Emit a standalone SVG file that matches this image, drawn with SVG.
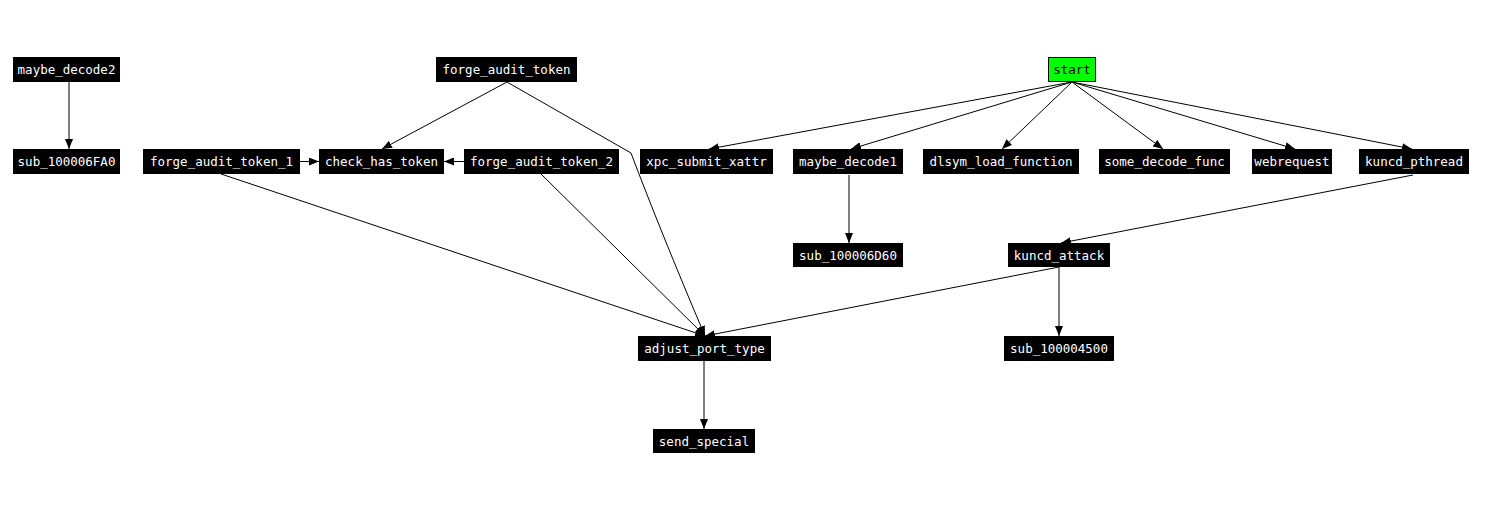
<svg xmlns="http://www.w3.org/2000/svg" width="1488" height="515" viewBox="0 0 1488 515">
<defs>
<style>
.n rect{fill:#000;}
.n text{fill:#fff;font-family:"DejaVu Sans Mono","Liberation Mono",monospace;font-size:12.5px;text-anchor:middle;dominant-baseline:central;}
#start rect{fill:#00ff00;stroke:#000;stroke-width:1;}
#start text{fill:#000;}
.e{fill:none;stroke:#000;stroke-width:1;marker-end:url(#ah);}
</style>
<marker id="ah" markerWidth="10" markerHeight="8" refX="10" refY="4" orient="auto" markerUnits="userSpaceOnUse">
<path d="M0,0 L10,4 L0,8 z" fill="#000"/>
</marker>
</defs>
<rect width="1488" height="515" fill="#fff"/>
<g id="edges">
<path class="e" d="M69,82 L69,149"/>
<path class="e" d="M300,161.5 L319,161.5"/>
<path class="e" d="M464,161.5 L444,161.5"/>
<path class="e" d="M507,82 L382,149"/>
<path class="e" d="M507,82 L631,153 Q660,230 705,336"/>
<path class="e" d="M221,174 L705,336"/>
<path class="e" d="M541,174 L705,336"/>
<path class="e" d="M1059,267 L705,336"/>
<path class="e" d="M1059,267 L1059,336"/>
<path class="e" d="M704,361 L704,429"/>
<path class="e" d="M1072,82 L709,149"/>
<path class="e" d="M1072,82 L851,149"/>
<path class="e" d="M1072,82 L1002,149"/>
<path class="e" d="M1072,82 L1163,149"/>
<path class="e" d="M1072,82 L1295,149"/>
<path class="e" d="M1072,82 L1412,149"/>
<path class="e" d="M1413,175 L1061,243"/>
<path class="e" d="M849,175 L849,243"/>
</g>
<g id="maybe_decode2" class="n"><rect x="13" y="57" width="107" height="25"/><text x="66.5" y="69.5">maybe_decode2</text></g>
<g id="forge_audit_token" class="n"><rect x="436" y="57" width="141" height="25"/><text x="506.5" y="69.5">forge_audit_token</text></g>
<g id="start" class="n"><rect x="1048.5" y="57.5" width="47" height="24"/><text x="1072" y="69.5">start</text></g>
<g id="sub_100006FA0" class="n"><rect x="13" y="149" width="107" height="25"/><text x="66.5" y="161.5">sub_100006FA0</text></g>
<g id="forge_audit_token_1" class="n"><rect x="143" y="149" width="157" height="25"/><text x="221.5" y="161.5">forge_audit_token_1</text></g>
<g id="check_has_token" class="n"><rect x="319" y="149" width="125" height="25"/><text x="381.5" y="161.5">check_has_token</text></g>
<g id="forge_audit_token_2" class="n"><rect x="464" y="149" width="155" height="25"/><text x="541.5" y="161.5">forge_audit_token_2</text></g>
<g id="xpc_submit_xattr" class="n"><rect x="640" y="149" width="133" height="25"/><text x="706.5" y="161.5">xpc_submit_xattr</text></g>
<g id="maybe_decode1" class="n"><rect x="793" y="149" width="110" height="25"/><text x="848" y="161.5">maybe_decode1</text></g>
<g id="dlsym_load_function" class="n"><rect x="923" y="149" width="156" height="25"/><text x="1001" y="161.5">dlsym_load_function</text></g>
<g id="some_decode_func" class="n"><rect x="1099" y="149" width="131" height="25"/><text x="1164.5" y="161.5">some_decode_func</text></g>
<g id="webrequest" class="n"><rect x="1252" y="149" width="80" height="25"/><text x="1292" y="161.5">webrequest</text></g>
<g id="kuncd_pthread" class="n"><rect x="1359" y="149" width="110" height="25"/><text x="1414" y="161.5">kuncd_pthread</text></g>
<g id="sub_100006D60" class="n"><rect x="793" y="243" width="110" height="24"/><text x="848" y="255">sub_100006D60</text></g>
<g id="kuncd_attack" class="n"><rect x="1008" y="243" width="102" height="24"/><text x="1059" y="255">kuncd_attack</text></g>
<g id="adjust_port_type" class="n"><rect x="638" y="336" width="133" height="25"/><text x="704.5" y="348.5">adjust_port_type</text></g>
<g id="sub_100004500" class="n"><rect x="1004" y="336" width="110" height="25"/><text x="1059" y="348.5">sub_100004500</text></g>
<g id="send_special" class="n"><rect x="653" y="429" width="102" height="24"/><text x="704" y="441">send_special</text></g>
</svg>
